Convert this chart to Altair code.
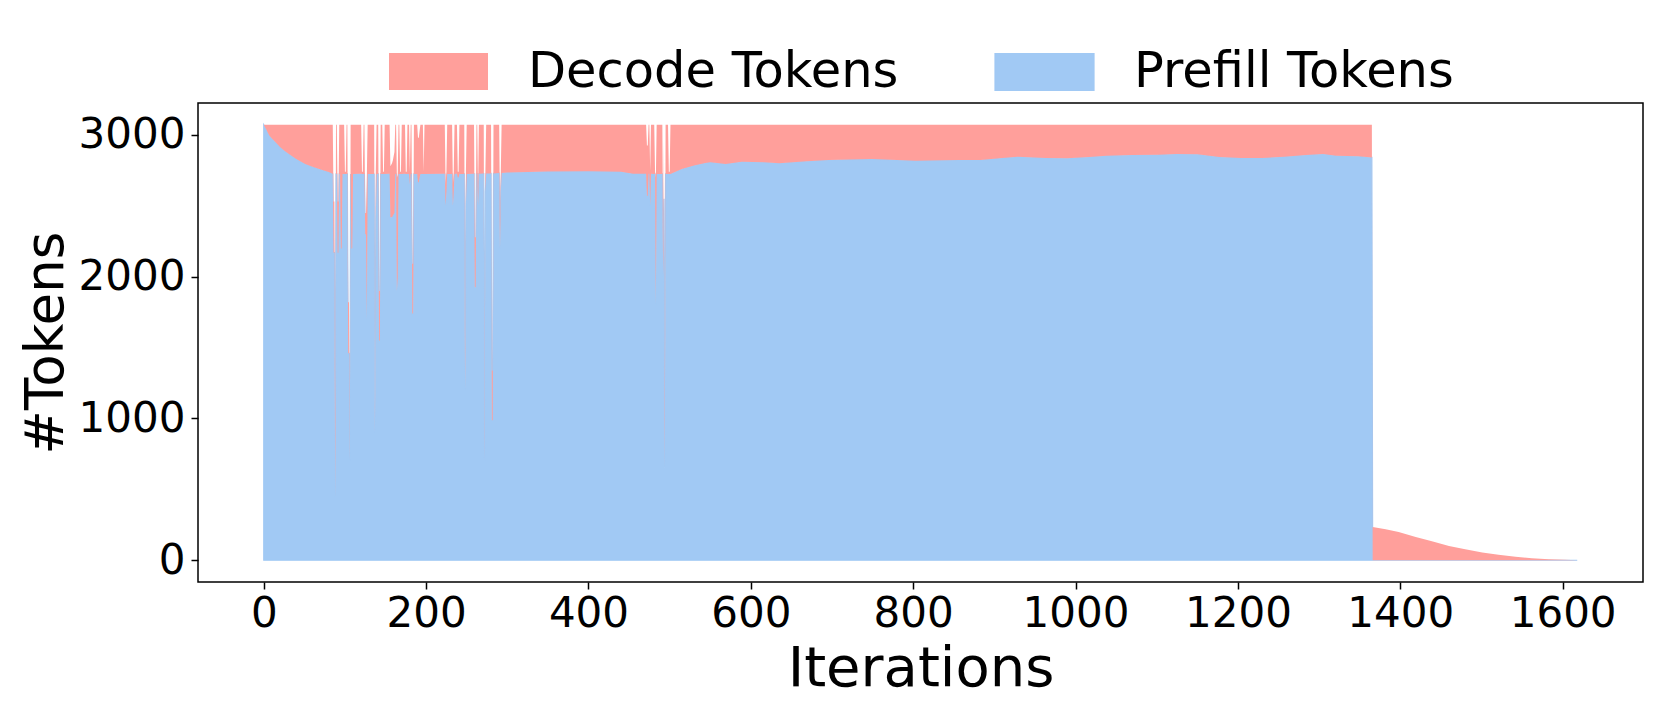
import altair as alt
import pandas as pd

# ---- data -----------------------------------------------------------------
# each entry: (iteration, prefill tokens, total tokens = prefill + decode)
ramp = [
    (0, 3072, 3072), (1, 3062, 3072), (2, 3050, 3072), (3, 3040, 3072), (5, 3015, 3072),
    (7, 2995, 3072), (10, 2975, 3072), (13, 2958, 3072), (16, 2940, 3072), (20, 2915, 3072),
    (25, 2890, 3072), (31, 2866, 3072), (40, 2830, 3072), (51, 2796, 3072), (60, 2775, 3072),
    (72, 2753, 3072), (80, 2738, 3072), (84, 2729, 3072),
]
early_dips = [
    (85, 2726, 3072), (86, 2170, 2530), (87, 2170, 2530), (88, 450, 1000), (89, 2725, 3072),
    (90, 2725, 3072), (91, 2170, 2530), (92, 2170, 2530), (93, 2725, 3072), (94, 2725, 3072),
    (95, 2200, 3072), (96, 2200, 3072), (97, 2725, 3072), (99, 2724, 3072), (100, 2725, 2740),
    (101, 2725, 2740), (102, 2725, 3072), (103, 2725, 3072), (104, 1460, 1820), (105, 1460, 1820),
    (106, 700, 800), (107, 2725, 3072), (108, 2200, 3072), (109, 2200, 3072), (110, 2725, 3072),
    (120, 2726, 3072), (121, 2725, 2740), (122, 2725, 2740), (123, 2725, 3072), (124, 2725, 3072),
    (125, 2300, 2450), (126, 2300, 2450), (127, 1700, 2720), (128, 2725, 3072), (136, 2724, 3072),
    (137, 900, 1100), (138, 2400, 2740), (139, 2725, 3072), (141, 2725, 3072), (142, 1550, 1900),
    (143, 1550, 1900), (144, 2725, 3072), (146, 2725, 3072), (147, 2725, 2740), (148, 2725, 2740),
    (149, 2725, 3072), (155, 2726, 3072), (156, 2420, 2780), (157, 2420, 2790), (158, 2420, 2800),
    (159, 2430, 2820), (160, 2440, 2850), (161, 2450, 2880), (162, 2725, 3072), (163, 2725, 3072),
    (164, 1900, 2700), (165, 2000, 2720), (166, 2725, 3072), (167, 2725, 3072), (168, 2725, 2740),
    (169, 2725, 2740), (170, 2725, 3072), (174, 2726, 3072), (175, 2725, 2740), (176, 2725, 2740),
    (177, 2725, 3072), (179, 2725, 3072), (180, 2650, 2740), (181, 2725, 3072), (182, 2725, 3072),
    (183, 1740, 2092), (184, 1740, 2092), (185, 2725, 3072), (189, 2725, 3072), (190, 2666, 2980),
    (191, 2666, 2980), (192, 2700, 3030), (193, 2725, 3072), (196, 2725, 3072), (197, 2725, 2740),
    (198, 2725, 3072), (223, 2726, 3072), (224, 2500, 2650), (225, 2600, 2740), (226, 2725, 3072),
    (232, 2725, 3072), (233, 2500, 2650), (234, 2600, 2740), (235, 2725, 3072), (238, 2726, 3072),
    (239, 2700, 2740), (240, 2700, 2740), (241, 2725, 3072), (247, 2725, 3072), (248, 1200, 1500),
    (249, 2500, 2740), (250, 2725, 3072), (259, 2727, 3072), (260, 1926, 2279), (261, 1926, 2279),
    (262, 2726, 3072), (263, 2727, 3072), (264, 2500, 2600), (265, 2727, 3072), (271, 2728, 3072),
    (272, 700, 900), (273, 2600, 2740), (274, 2728, 3072), (280, 2729, 3072), (281, 987, 1339),
    (282, 987, 1339), (283, 2729, 3072), (290, 2731, 3072), (291, 2200, 2400), (292, 2600, 2740),
    (293, 2731, 3072),
]
mid_dips = [
    (300, 2735, 3072), (350, 2742, 3072), (400, 2745, 3072), (440, 2741, 3072), (455, 2727, 3072),
    (471, 2727, 3072), (472, 2572, 2925), (473, 2572, 2925), (474, 2727, 3072), (475, 2726, 3072),
    (476, 2500, 2750), (477, 2726, 3072), (481, 2725, 3072), (482, 2725, 2740), (483, 1800, 2700),
    (484, 2725, 3072), (491, 2725, 3072), (492, 2000, 2185), (493, 2550, 2960), (494, 650, 1000),
    (495, 2725, 3072), (498, 2725, 3072), (499, 2725, 2740), (500, 2725, 2740), (501, 2725, 3072),
]
steady = [
    (515, 2760, 3072), (530, 2785, 3072), (544, 2803, 3072), (550, 2807, 3072), (569, 2796, 3072),
    (589, 2812, 3072), (616, 2807, 3072), (635, 2800, 3072), (669, 2815, 3072), (696, 2823, 3072),
    (749, 2830, 3072), (803, 2819, 3072), (856, 2823, 3072), (883, 2823, 3072), (910, 2838, 3072),
    (929, 2847, 3072), (963, 2838, 3072), (990, 2836, 3072), (1017, 2845, 3072), (1038, 2854, 3072),
    (1070, 2859, 3072), (1102, 2861, 3072), (1124, 2866, 3072), (1150, 2864, 3072), (1177, 2845, 3072),
    (1204, 2838, 3072), (1230, 2838, 3072), (1257, 2847, 3072), (1284, 2859, 3072), (1305, 2866, 3072),
    (1321, 2854, 3072), (1348, 2850, 3072), (1365, 2842, 3072),
]
tail = [
    (1366, 0, 235), (1382, 0, 218), (1398, 0, 200), (1419, 0, 164), (1439, 0, 134),
    (1460, 0, 101), (1480, 0, 78), (1501, 0, 54), (1521, 0, 38), (1542, 0, 24),
    (1562, 0, 14), (1583, 0, 7), (1603, 0, 3), (1618, 0, 0),
]

series_names = ["Decode Tokens", "Prefill Tokens"]
series_colors = ["#FF9F9B", "#A1C9F4"]
x_ticks = [0, 200, 400, 600, 800, 1000, 1200, 1400, 1600]
y_ticks = [0, 1000, 2000, 3000]

rows = []
for it, p, t in ramp + early_dips + mid_dips + steady + tail:
    rows.append({"it": it, "series": "Prefill Tokens", "lo": 0, "hi": p, "k": 0})
    rows.append({"it": it, "series": "Decode Tokens", "lo": p, "hi": t, "k": 1})
df = pd.DataFrame(rows)

FONT = "DejaVu Sans"
W, H = 1445, 479

color_scale = alt.Scale(domain=series_names, range=series_colors)

chart = alt.Chart(df).mark_area(opacity=1).encode(
    x=alt.X(
        "it:Q",
        scale=alt.Scale(domain=[-81, 1699], nice=False, zero=False),
        axis=alt.Axis(
            values=x_ticks, format="d", title="Iterations",
            labelFont=FONT, labelFontSize=42, labelColor="black",
            titleFont=FONT, titleFontSize=56, titleColor="black", titleFontWeight="normal",
            titleX=W / 2, titleY=103, titleBaseline="alphabetic", titleAlign="center",
            tickColor="black", tickSize=7, tickWidth=1.5, labelPadding=4,
            domain=False, grid=False, labelFlush=False, labelOverlap=False,
        ),
    ),
    y=alt.Y(
        "lo:Q",
        stack=None,
        scale=alt.Scale(domain=[-153.6, 3225.6], nice=False, zero=False),
        axis=alt.Axis(
            values=y_ticks, format="d", title="#Tokens",
            labelFont=FONT, labelFontSize=42, labelColor="black",
            titleFont=FONT, titleFontSize=53, titleColor="black", titleFontWeight="normal",
            titleX=-136, titleY=H / 2, titleBaseline="alphabetic", titleAlign="center",
            titleAngle=270,
            tickColor="black", tickSize=7, tickWidth=1.5, labelPadding=6,
            domain=False, grid=False, labelFlush=False, labelOverlap=False,
        ),
    ),
    y2="hi:Q",
    color=alt.Color(
        "series:N",
        scale=color_scale,
        legend=alt.Legend(
            title=None, orient="none", direction="horizontal", columns=2,
            legendX=190, legendY=-81.5, padding=0,
            symbolType="M-1,-0.374L1,-0.374L1,0.374L-1,0.374Z",
            symbolSize=9801, symbolStrokeWidth=0, symbolOpacity=1,
            labelFont=FONT, labelFontSize=49.5, labelColor="black",
            labelOffset=39, labelLimit=1000, columnPadding=93,
        ),
    ),
    stroke=alt.Color("series:N", scale=color_scale, legend=None),
    strokeWidth=alt.StrokeWidth(
        "series:N", scale=alt.Scale(domain=series_names, range=[0, 1.2]), legend=None
    ),
    order=alt.Order("k:Q"),
).properties(
    width=W, height=H,
    autosize=alt.AutoSizeParams(type="none"),
    padding={"left": 190, "top": 95, "right": 10, "bottom": 120},
).configure(
    background="white", font=FONT
).configure_view(
    stroke="black", strokeWidth=1.5
)

chart.save("out.html", embed_options={"renderer": "svg", "actions": False})
